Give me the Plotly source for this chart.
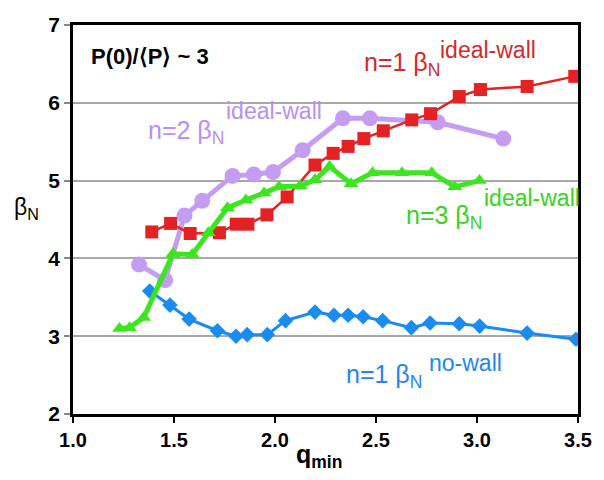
import plotly.graph_objects as go

# q_min scan: beta_N stability limits
q_n1_nowall = [1.38, 1.48, 1.575, 1.715, 1.807, 1.862, 1.962, 2.052, 2.198, 2.292,
               2.362, 2.436, 2.533, 2.675, 2.768, 2.912, 3.013, 3.248, 3.49]
b_n1_nowall = [3.58, 3.40, 3.22, 3.07, 3.00, 3.02, 3.02, 3.20, 3.31, 3.27,
               3.27, 3.25, 3.20, 3.11, 3.17, 3.16, 3.13, 3.04, 2.96]

q_n2_ideal = [1.327, 1.456, 1.552, 1.64, 1.79, 1.895, 1.99, 2.137, 2.336, 2.47, 2.805, 3.13]
b_n2_ideal = [3.92, 3.72, 4.55, 4.74, 5.06, 5.08, 5.11, 5.39, 5.80, 5.80, 5.75, 5.54]

q_n1_ideal = [1.39, 1.483, 1.58, 1.725, 1.808, 1.866, 1.96, 2.06, 2.198, 2.288,
              2.362, 2.44, 2.536, 2.677, 2.77, 2.912, 3.017, 3.248, 3.484]
b_n1_ideal = [4.34, 4.45, 4.32, 4.33, 4.44, 4.44, 4.56, 4.79, 5.20, 5.35,
              5.44, 5.54, 5.64, 5.78, 5.86, 6.08, 6.17, 6.21, 6.34]

q_n3_ideal = [1.23, 1.28, 1.35, 1.495, 1.59, 1.67, 1.765, 1.856, 1.946, 2.02,
              2.125, 2.198, 2.27, 2.377, 2.483, 2.629, 2.776, 2.89, 3.012]
b_n3_ideal = [3.10, 3.11, 3.24, 4.06, 4.05, 4.33, 4.65, 4.75, 4.84, 4.92,
              4.93, 5.01, 5.18, 4.96, 5.10, 5.10, 5.10, 4.92, 5.00]

x_ticks = [1.0, 1.5, 2.0, 2.5, 3.0, 3.5]
x_tick_text = ["1.0", "1.5", "2.0", "2.5", "3.0", "3.5"]
y_ticks = [2, 3, 4, 5, 6, 7]

RED = "#e42224"
PURPLE = "#c49cf2"
GREEN = "#3ce61e"
BLUE = "#1a8cf0"

FONT = "Liberation Sans, Arial, sans-serif"

W, H = 604, 480
L, R, T, B = 73, 19, 25, 66
PW, PH = W - L - R, H - T - B


def px(x):
    return (x - L) / PW


def py(y):
    return (H - B - y) / PH


fig = go.Figure()

fig.add_trace(go.Scatter(
    x=q_n1_nowall, y=b_n1_nowall, mode="lines+markers",
    line=dict(color=BLUE, width=3),
    marker=dict(symbol="diamond", size=12, color=BLUE)))
fig.add_trace(go.Scatter(
    x=q_n2_ideal, y=b_n2_ideal, mode="lines+markers",
    line=dict(color=PURPLE, width=5),
    marker=dict(symbol="circle", size=16, color=PURPLE)))
fig.add_trace(go.Scatter(
    x=q_n1_ideal, y=b_n1_ideal, mode="lines+markers",
    line=dict(color=RED, width=2.5),
    marker=dict(symbol="square", size=13, color=RED)))
fig.add_trace(go.Scatter(
    x=q_n3_ideal, y=b_n3_ideal, mode="lines+markers",
    line=dict(color=GREEN, width=5),
    marker=dict(symbol="triangle-up", size=13, color=GREEN)))

annotations = []


def label(text, x, y, color, size, bold=False):
    annotations.append(dict(
        text=f"<b>{text}</b>" if bold else text,
        x=px(x), y=py(y), xref="paper", yref="paper",
        xanchor="left", yanchor="middle", showarrow=False,
        font=dict(family=FONT, size=size, color=color)))


label("P(0)/⟨P⟩ ~ 3", 89, 56, "black", 22, bold=True)

label("n=1 β<sub>N</sub>", 366, 64, "#d42a2a", 25)
label("ideal-wall", 443, 50, "#d42a2a", 23)

label("n=2 β<sub>N</sub>", 147, 132, "#b98ff0", 25)
label("ideal-wall", 226, 111, "#b98ff0", 23)

label("n=3 β<sub>N</sub>", 409, 217, "#38d41c", 25)
label("ideal-wall", 488, 198, "#38d41c", 23)

label("n=1 β<sub>N</sub>", 348, 376, "#1e88e8", 25)
label("no-wall", 432, 363, "#1e88e8", 23)

# axis titles
label("β<sub>N</sub>", 11, 208, "black", 23)
annotations.append(dict(
    text="<b><span style='font-size:25px'>q</span><sub>min</sub></b>",
    x=px(322), y=py(456), xref="paper", yref="paper",
    xanchor="center", yanchor="middle", showarrow=False,
    font=dict(family=FONT, size=25, color="black")))

fig.update_layout(
    width=W, height=H,
    margin=dict(l=L, r=R, t=T, b=B),
    paper_bgcolor="white", plot_bgcolor="white",
    showlegend=False,
    annotations=annotations,
    font=dict(family=FONT, color="black"),
)

fig.update_xaxes(
    range=[1.0, 3.5], tickvals=x_ticks, ticktext=[f"<b>{t}</b>" for t in x_tick_text],
    showgrid=False, zeroline=False,
    showline=True, mirror=True, linecolor="black", linewidth=2.5,
    ticks="outside", ticklen=6, tickwidth=1.5, tickcolor="black",
    tickfont=dict(family=FONT, size=20, color="black"),
)
fig.update_yaxes(
    range=[2, 7], tickvals=y_ticks, ticktext=[f"<b>{t}</b>" for t in y_ticks],
    showgrid=True, gridcolor="#a8a8a8", gridwidth=1.5, zeroline=False,
    showline=True, mirror=True, linecolor="black", linewidth=2.5,
    ticks="outside", ticklen=6, tickwidth=1.5, tickcolor="#888888",
    tickfont=dict(family=FONT, size=21, color="black"),
)

fig.write_html("out.html")
